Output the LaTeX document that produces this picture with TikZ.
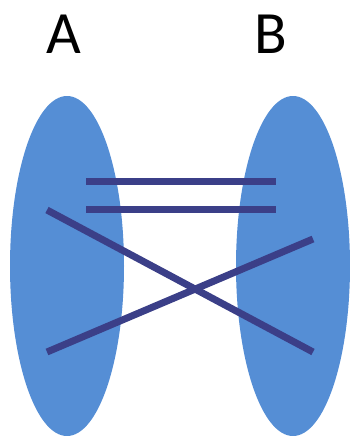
\documentclass[tikz,border=0pt]{standalone}
\usepackage{fontspec}
\setmainfont{Carlito}
\usepackage{tikz}
\usetikzlibrary{shapes.geometric}
\definecolor{setfill}{HTML}{558ED5}
\definecolor{linkink}{HTML}{3B3F88}

\begin{document}
\begin{tikzpicture}[x=1pt,y=-1pt,
  setblob/.style={ellipse,fill=setfill,inner sep=0pt,minimum width=114pt,minimum height=340pt},
  setlabel/.style={font=\fontsize{60}{66}\selectfont,anchor=base,inner sep=0pt},
  link/.style={linkink,line width=7pt}]
  \useasboundingbox (0,0) rectangle (350,436);
  % sets
  \node[setblob] (setA) at (67,266) {};
  \node[setblob] (setB) at (293,266) {};
  \node[setlabel] (labA) at (63.5,53) {A};
  \node[setlabel] (labB) at (271,53) {B};
  % link ends
  \coordinate (a1) at (86,181);
  \coordinate (a2) at (86,209);
  \coordinate (a3) at (47,210);
  \coordinate (a4) at (47,352);
  \coordinate (b1) at (276,181);
  \coordinate (b2) at (276,209);
  \coordinate (b3) at (313,352);
  \coordinate (b4) at (313,239);
  % links
  \draw[link] (a1) -- (b1);
  \draw[link] (a2) -- (b2);
  \draw[link] (a3) -- (b3);
  \draw[link] (a4) -- (b4);
\end{tikzpicture}
\end{document}
